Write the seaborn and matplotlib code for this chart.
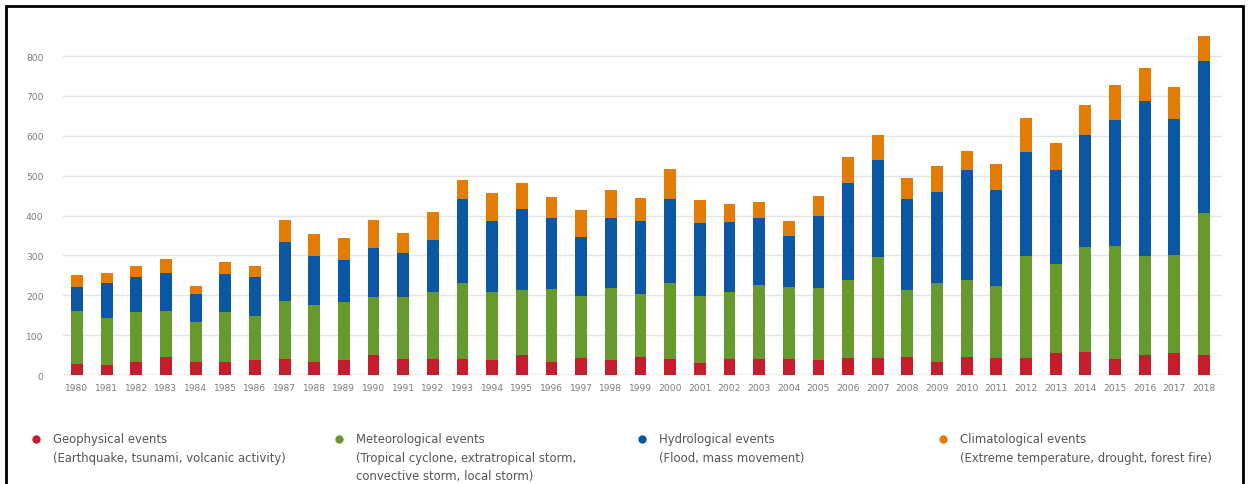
import numpy as np
import pandas as pd
import matplotlib
matplotlib.use("Agg")
import matplotlib.pyplot as plt
import seaborn as sns

# Natural catastrophes worldwide by event type, 1980-2018
years = [str(y) for y in range(1980, 2019)]

geophysical = [28, 26, 33, 44, 32, 33, 38, 40, 32, 38, 50, 40, 40, 40, 38, 50, 32, 43, 38, 44,
               40, 30, 40, 40, 40, 38, 42, 42, 44, 33, 44, 42, 42, 54, 57, 40, 50, 54, 50]
meteorological = [132, 117, 124, 117, 102, 124, 111, 146, 144, 146, 146, 155, 167, 191, 171, 162, 184, 154, 180, 158,
                  192, 169, 169, 186, 180, 179, 196, 255, 168, 199, 194, 182, 257, 224, 263, 283, 249, 247, 356]
hydrological = [60, 89, 90, 94, 68, 96, 96, 148, 123, 105, 122, 111, 132, 210, 176, 204, 177, 148, 175, 183,
                209, 182, 174, 169, 128, 183, 243, 241, 229, 228, 277, 240, 261, 237, 282, 317, 387, 341, 382]
climatological = [31, 24, 26, 36, 22, 31, 29, 55, 55, 55, 71, 49, 71, 49, 72, 66, 53, 70, 71, 59,
                  76, 59, 46, 40, 37, 50, 65, 64, 52, 65, 46, 65, 85, 66, 74, 88, 84, 80, 61]

categories = ["Geophysical events", "Meteorological events", "Hydrological events", "Climatological events"]
descriptions = [["(Earthquake, tsunami, volcanic activity)"],
                ["(Tropical cyclone, extratropical storm,", "convective storm, local storm)"],
                ["(Flood, mass movement)"],
                ["(Extreme temperature, drought, forest fire)"]]
colors = ["#c61d2c", "#669a2c", "#0b57a3", "#e27c05"]

df = pd.DataFrame({"Year": years,
                   categories[0]: geophysical,
                   categories[1]: meteorological,
                   categories[2]: hydrological,
                   categories[3]: climatological})
# cumulative tops so the layers can be drawn back to front
cum = df[categories].cumsum(axis=1)
cum["Year"] = df["Year"]

sns.set_style("white")
plt.rcParams["font.family"] = ["DejaVu Sans"]

W, H = 1248, 485
fig = plt.figure(figsize=(W / 100, H / 100), dpi=100)
ax = fig.add_axes([0.0505, 0.2247, 0.9285, 0.7153])

for cat, col in reversed(list(zip(categories, colors))):
    sns.barplot(data=cum, x="Year", y=cat, color=col, width=0.4, ax=ax,
                saturation=1, edgecolor="none", zorder=3)

ax.set_xlim(-0.47, 38.6)
ax.set_ylim(0, 870)
ax.set_yticks(range(0, 801, 100))
ax.yaxis.grid(True, color="#e4e4e4", linewidth=1, zorder=0)
ax.axhline(0, color="#d0d0d0", linewidth=1, zorder=1)
ax.set_axisbelow(True)
for s in ax.spines.values():
    s.set_visible(False)
ax.set_xlabel("")
ax.set_ylabel("")
ax.tick_params(axis="both", length=0, labelsize=6.6, labelcolor="#7a7a7a")
ax.tick_params(axis="y", pad=14)
ax.tick_params(axis="x", pad=6)

# legend below the chart (pixel positions converted to figure fractions)
dot_x = [36, 339, 642, 943]
for x, cat, desc, col in zip(dot_x, categories, descriptions, colors):
    fig.lines.append(plt.Line2D([x / W], [1 - 440 / H], marker="o", markersize=5,
                                color=col, transform=fig.transFigure))
    for i, line in enumerate([cat] + desc):
        fig.text((x + 17) / W, 1 - (440 + 18.5 * i) / H, line, fontsize=8.4,
                 color="#555555", va="center", ha="left")

# frame around the picture
fig.patches.append(plt.Rectangle((0.0048, -0.01), 0.9912, 0.996, fill=False,
                                 edgecolor="black", linewidth=2,
                                 transform=fig.transFigure))

fig.savefig("out.png", dpi=100)
